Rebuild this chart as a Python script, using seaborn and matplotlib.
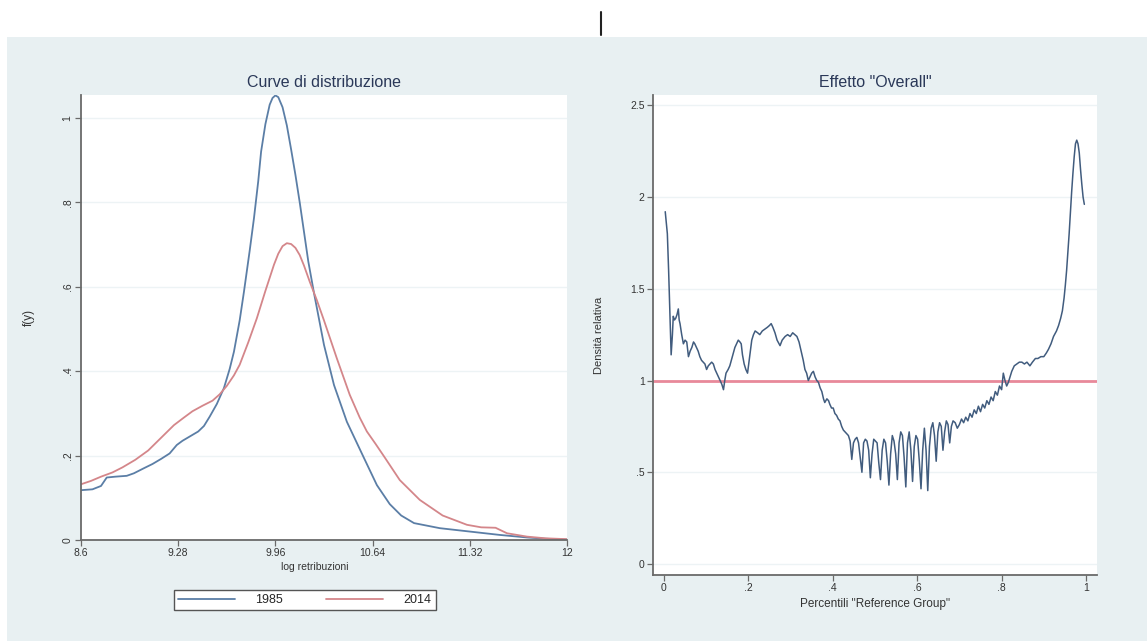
import pandas as pd
import matplotlib.pyplot as plt
import seaborn as sns
from matplotlib.patches import Rectangle
from matplotlib.lines import Line2D

# --- dati ---------------------------------------------------------------
# Curve di distribuzione (log retribuzioni)
log_retr_1985 = [8.60, 8.68, 8.74, 8.78, 8.84, 8.92, 8.97, 9.04, 9.10, 9.16, 9.22, 9.27,
                 9.31, 9.36, 9.42, 9.46, 9.50, 9.55, 9.60, 9.64, 9.67, 9.71, 9.74, 9.78,
                 9.81, 9.84, 9.86, 9.89, 9.92, 9.94, 9.96, 9.98, 10.01, 10.04, 10.07,
                 10.10, 10.13, 10.16, 10.19, 10.23, 10.30, 10.37, 10.46, 10.58,
                 10.67, 10.76, 10.84, 10.93, 11.11, 11.32, 11.53, 11.72, 11.85, 12.00]
fy_1985 = [0.118, 0.120, 0.128, 0.148, 0.150, 0.152, 0.158, 0.170, 0.180, 0.192, 0.205, 0.225,
           0.235, 0.245, 0.257, 0.270, 0.292, 0.322, 0.360, 0.405, 0.446, 0.520, 0.588, 0.685,
           0.762, 0.850, 0.920, 0.985, 1.031, 1.047, 1.053, 1.049, 1.025, 0.982, 0.925,
           0.865, 0.800, 0.730, 0.660, 0.585, 0.462, 0.367, 0.280, 0.194,
           0.130, 0.085, 0.058, 0.040, 0.028, 0.020, 0.012, 0.006, 0.003, 0.001]

log_retr_2014 = [8.60, 8.67, 8.74, 8.82, 8.89, 8.98, 9.07, 9.13, 9.19, 9.25, 9.32, 9.38,
                 9.45, 9.52, 9.57, 9.62, 9.67, 9.71, 9.77, 9.83, 9.89, 9.95, 9.98, 10.01,
                 10.04, 10.07, 10.10, 10.13, 10.16, 10.20, 10.25, 10.30, 10.39, 10.48,
                 10.55, 10.60, 10.66, 10.72, 10.83, 10.97, 11.13, 11.30, 11.40, 11.50,
                 11.58, 11.72, 11.85, 12.00]
fy_2014 = [0.132, 0.140, 0.150, 0.160, 0.172, 0.190, 0.212, 0.232, 0.252, 0.272, 0.290, 0.305,
           0.318, 0.330, 0.345, 0.365, 0.390, 0.415, 0.468, 0.525, 0.590, 0.652, 0.678, 0.696,
           0.703, 0.701, 0.692, 0.675, 0.650, 0.612, 0.568, 0.520, 0.430, 0.344,
           0.290, 0.257, 0.228, 0.198, 0.142, 0.095, 0.058, 0.036, 0.030, 0.029,
           0.016, 0.008, 0.004, 0.002]

# Effetto "Overall" (densita' relativa)
percentili = [0.003, 0.008, 0.011, 0.014, 0.017, 0.020, 0.022, 0.025, 0.028, 0.031, 0.034, 0.036,
              0.038, 0.042, 0.046, 0.050, 0.054, 0.058, 0.062, 0.066, 0.070, 0.073, 0.077, 0.081,
              0.085, 0.089, 0.093, 0.097, 0.101, 0.105, 0.109, 0.113, 0.117, 0.121, 0.125, 0.129,
              0.133, 0.137, 0.141, 0.144, 0.147, 0.152, 0.156, 0.162, 0.168, 0.172, 0.176, 0.180,
              0.183, 0.186, 0.190, 0.194, 0.198, 0.203, 0.208, 0.212, 0.216, 0.222, 0.227, 0.233,
              0.239, 0.245, 0.250, 0.254, 0.258, 0.263, 0.268, 0.275, 0.280, 0.287, 0.293, 0.299,
              0.305, 0.310, 0.315, 0.320, 0.325, 0.330, 0.334, 0.338, 0.342, 0.346, 0.350, 0.354,
              0.358, 0.362, 0.366, 0.370, 0.374, 0.378, 0.381, 0.386, 0.390, 0.393, 0.397, 0.401,
              0.405, 0.409, 0.413, 0.417, 0.421, 0.425, 0.429, 0.433, 0.437, 0.441, 0.445, 0.449,
              0.453, 0.457, 0.461, 0.465, 0.469, 0.473, 0.477, 0.481, 0.485, 0.489, 0.493, 0.497,
              0.501, 0.505, 0.509, 0.513, 0.517, 0.521, 0.525, 0.529, 0.533, 0.537, 0.541, 0.545,
              0.549, 0.553, 0.557, 0.561, 0.565, 0.569, 0.573, 0.577, 0.581, 0.585, 0.589, 0.593,
              0.597, 0.601, 0.605, 0.609, 0.613, 0.617, 0.621, 0.625, 0.629, 0.633, 0.637, 0.641,
              0.645, 0.649, 0.653, 0.657, 0.661, 0.665, 0.669, 0.673, 0.677, 0.681, 0.685, 0.690,
              0.695, 0.700, 0.705, 0.710, 0.715, 0.720, 0.725, 0.730, 0.735, 0.740, 0.745, 0.750,
              0.755, 0.760, 0.765, 0.770, 0.775, 0.780, 0.785, 0.790, 0.795, 0.800, 0.804, 0.808,
              0.812, 0.816, 0.820, 0.824, 0.830, 0.836, 0.842, 0.848, 0.854, 0.860, 0.867, 0.873,
              0.880, 0.886, 0.893, 0.900, 0.906, 0.911, 0.917, 0.923, 0.930, 0.935, 0.940, 0.944,
              0.948, 0.951, 0.954, 0.957, 0.960, 0.963, 0.966, 0.969, 0.972, 0.975, 0.978, 0.981,
              0.984, 0.987, 0.990, 0.993, 0.996]
dens_relativa = [1.92, 1.80, 1.60, 1.37, 1.14, 1.25, 1.35, 1.33, 1.34, 1.36, 1.39, 1.33,
                 1.31, 1.25, 1.20, 1.22, 1.21, 1.13, 1.16, 1.18, 1.21, 1.20, 1.18, 1.16,
                 1.13, 1.11, 1.10, 1.09, 1.06, 1.08, 1.09, 1.10, 1.09, 1.06, 1.04, 1.02,
                 1.00, 0.98, 0.95, 1.00, 1.04, 1.06, 1.08, 1.13, 1.18, 1.20, 1.22, 1.21,
                 1.20, 1.14, 1.09, 1.06, 1.04, 1.13, 1.22, 1.25, 1.27, 1.26, 1.25, 1.27,
                 1.28, 1.29, 1.30, 1.31, 1.29, 1.26, 1.22, 1.19, 1.22, 1.24, 1.25, 1.24,
                 1.26, 1.25, 1.24, 1.21, 1.16, 1.11, 1.06, 1.04, 1.00, 1.02, 1.04, 1.05,
                 1.02, 1.00, 0.99, 0.96, 0.94, 0.90, 0.88, 0.90, 0.89, 0.87, 0.85, 0.85,
                 0.82, 0.81, 0.79, 0.78, 0.75, 0.73, 0.72, 0.71, 0.70, 0.67, 0.57, 0.66,
                 0.68, 0.69, 0.66, 0.58, 0.50, 0.66, 0.68, 0.67, 0.62, 0.47, 0.60, 0.68,
                 0.67, 0.66, 0.55, 0.46, 0.62, 0.68, 0.66, 0.56, 0.43, 0.60, 0.70, 0.67,
                 0.60, 0.46, 0.66, 0.72, 0.70, 0.58, 0.42, 0.66, 0.72, 0.62, 0.45, 0.64,
                 0.70, 0.68, 0.56, 0.41, 0.62, 0.74, 0.62, 0.40, 0.64, 0.74, 0.77, 0.70,
                 0.56, 0.72, 0.77, 0.75, 0.62, 0.72, 0.78, 0.76, 0.66, 0.75, 0.78, 0.77,
                 0.74, 0.76, 0.79, 0.77, 0.80, 0.78, 0.82, 0.80, 0.84, 0.82, 0.86, 0.83,
                 0.87, 0.85, 0.89, 0.87, 0.91, 0.89, 0.94, 0.92, 0.97, 0.95, 1.04, 1.00,
                 0.97, 0.99, 1.02, 1.05, 1.08, 1.09, 1.10, 1.10, 1.09, 1.10, 1.08, 1.10,
                 1.12, 1.12, 1.13, 1.13, 1.15, 1.17, 1.20, 1.24, 1.27, 1.30, 1.34, 1.38,
                 1.45, 1.52, 1.60, 1.70, 1.80, 1.92, 2.03, 2.13, 2.22, 2.29, 2.31, 2.29,
                 2.24, 2.15, 2.07, 2.00, 1.96]

x_ticks_left = [8.6, 9.28, 9.96, 10.64, 11.32, 12]
y_ticks_left = [0, 0.2, 0.4, 0.6, 0.8, 1]
y_labels_left = ['0', '.2', '.4', '.6', '.8', '1']
x_ticks_right = [0, 0.2, 0.4, 0.6, 0.8, 1]
x_labels_right = ['0', '.2', '.4', '.6', '.8', '1']
y_ticks_right = [0, 0.5, 1, 1.5, 2, 2.5]
y_labels_right = ['0', '.5', '1', '1.5', '2', '2.5']

# --- stile ---------------------------------------------------------------
sns.set_theme(style="white")
plt.rcParams['font.family'] = ['Liberation Sans', 'DejaVu Sans']

BG = '#e8f0f2'
BLUE = '#5b7ea6'
RED = '#d4868a'
NAVY = '#415c7e'
PINK = '#e8899a'
TITLE_C = '#2a3858'
TXT = '#333333'

W, H = 1147, 641
fig = plt.figure(figsize=(W / 100, H / 100), dpi=100)
fig.patch.set_facecolor('white')
fig.add_artist(Rectangle((7 / W, 0), 1 - 7 / W, (H - 37) / H, transform=fig.transFigure,
                         facecolor=BG, edgecolor='none', zorder=0))
fig.add_artist(Line2D([601 / W, 601 / W], [1 - 12 / H, 1 - 35 / H], color='#222222',
                      lw=1.5, transform=fig.transFigure))

ax1 = fig.add_axes([81 / W, (H - 540) / H, 486 / W, 445 / H])
ax2 = fig.add_axes([653 / W, (H - 575) / H, 444 / W, 480 / H])


def stile_assi(ax):
    ax.set_facecolor('white')
    for s in ['top', 'right']:
        ax.spines[s].set_visible(False)
    for s in ['left', 'bottom']:
        ax.spines[s].set_color('#6a6a6a')
        ax.spines[s].set_linewidth(1.3)
    ax.tick_params(direction='out', length=4, width=0.9, color='#6a6a6a',
                   labelsize=7.5, labelcolor=TXT, pad=2, left=True, bottom=True)
    ax.yaxis.grid(True, color='#edf3f5', lw=1)
    ax.xaxis.grid(False)
    ax.set_axisbelow(True)


# --- pannello sinistro: curve di distribuzione -----------------------------
df_left = pd.concat([
    pd.DataFrame({'log_retr': log_retr_1985, 'fy': fy_1985, 'anno': '1985'}),
    pd.DataFrame({'log_retr': log_retr_2014, 'fy': fy_2014, 'anno': '2014'}),
])
sns.lineplot(data=df_left, x='log_retr', y='fy', hue='anno', estimator=None,
             palette={'1985': BLUE, '2014': RED}, linewidth=1.3, ax=ax1)
handles, labels = ax1.get_legend_handles_labels()
ax1.get_legend().remove()

stile_assi(ax1)
ax1.set_xlim(8.6, 12)
ax1.set_ylim(0, 1.054)
ax1.set_xticks(x_ticks_left)
ax1.set_xticklabels([str(t) for t in x_ticks_left])
ax1.set_yticks(y_ticks_left)
ax1.set_yticklabels(y_labels_left, rotation=90, va='center')
ax1.set_title('Curve di distribuzione', fontsize=11.5, color=TITLE_C, pad=6)
ax1.set_xlabel('log retribuzioni', fontsize=7.5, color=TXT)
ax1.xaxis.set_label_coords(0.48, -0.05)
ax1.set_ylabel('f(y)', fontsize=8.5, color=TXT)
ax1.yaxis.set_label_coords(-0.095, 0.5)

fig.legend(handles, labels, loc='center', bbox_to_anchor=(304.5 / W, 1 - 600 / H), ncol=2,
           frameon=True, fancybox=False, edgecolor='#555555', facecolor='white',
           fontsize=9, handlelength=4.6, columnspacing=3.4, handletextpad=1.6,
           borderpad=0.35, framealpha=1).get_frame().set_linewidth(1.0)

# --- pannello destro: effetto overall --------------------------------------
ax2.axhline(1, color=PINK, lw=2, zorder=1)
sns.lineplot(x=percentili, y=dens_relativa, estimator=None, color=NAVY, linewidth=1.1,
             ax=ax2, zorder=2)
stile_assi(ax2)
ax2.set_xlim(-0.026, 1.026)
ax2.set_ylim(-0.06, 2.556)
ax2.set_xticks(x_ticks_right)
ax2.set_xticklabels(x_labels_right)
ax2.set_yticks(y_ticks_right)
ax2.set_yticklabels(y_labels_right)
ax2.set_title('Effetto "Overall"', fontsize=11.5, color=TITLE_C, pad=6)
ax2.set_xlabel('Percentili "Reference Group"', fontsize=8.5, color=TXT)
ax2.xaxis.set_label_coords(0.5, -0.048)
ax2.set_ylabel('Densità relativa', fontsize=8, color=TXT)
ax2.yaxis.set_label_coords(-0.11, 0.5)

fig.savefig('out.png', dpi=100)
